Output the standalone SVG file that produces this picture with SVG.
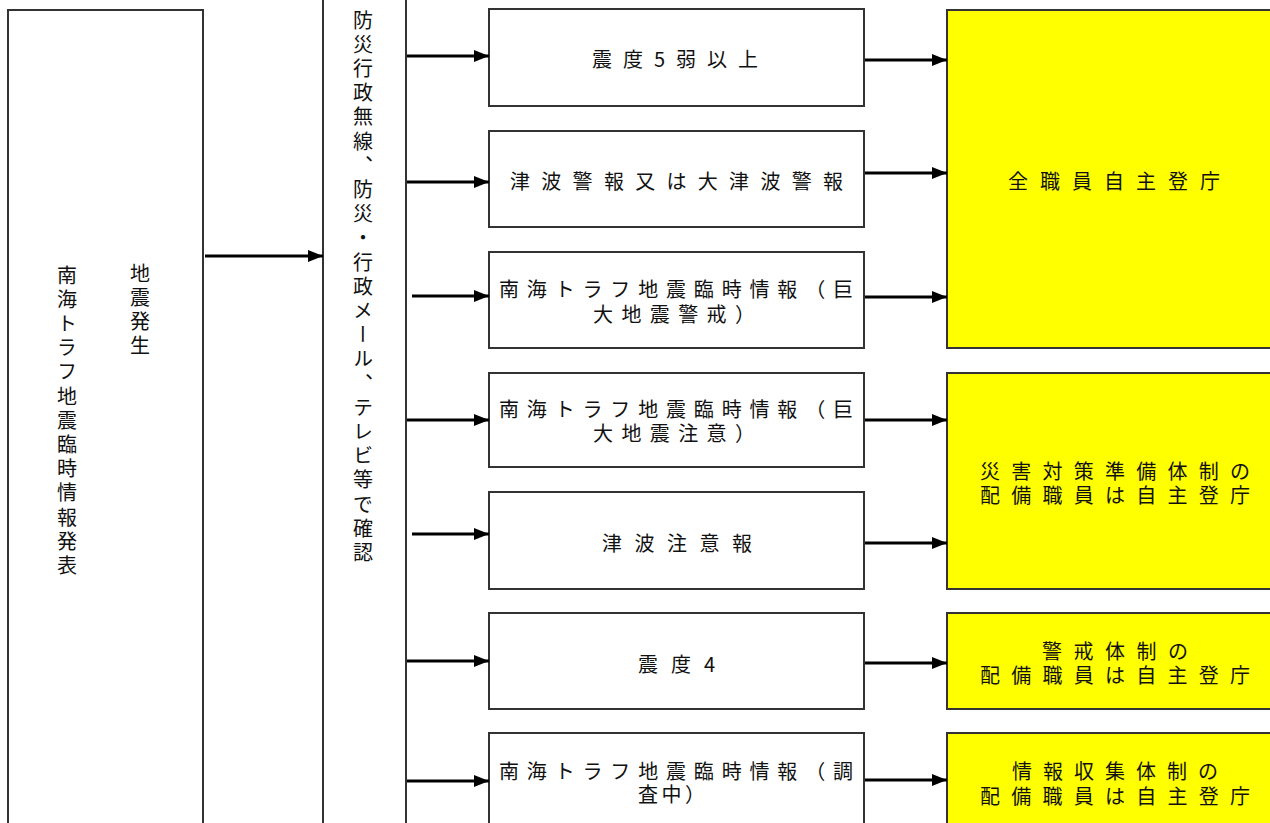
<svg xmlns="http://www.w3.org/2000/svg" width="1270" height="823" viewBox="0 0 1270 823">
<style>
.box{fill:#fff;stroke:#333;stroke-width:2}
.ybox{fill:#ffff00;stroke:#333;stroke-width:2}
.t{font-family:"Noto Sans CJK JP","Noto Sans CJK SC",sans-serif;font-size:20px;font-weight:normal;fill:#111;dominant-baseline:central}
.v{font-family:"Noto Sans CJK JP","Noto Sans CJK SC",sans-serif;font-size:20px;font-weight:normal;fill:#111;writing-mode:vertical-rl;letter-spacing:4.2px}
.c{stroke:#000;stroke-width:3;fill:none;marker-end:url(#ah)}
</style>
<defs>
<marker id="ah" markerUnits="userSpaceOnUse" markerWidth="16" markerHeight="12" refX="15" refY="6" orient="auto">
<path d="M0,0 L15,6 L0,12 Z" fill="#000"/>
</marker>
</defs>
<rect width="1270" height="823" fill="#fff"/>
<g id="n-start">
<rect class="box" x="8" y="10" width="195" height="830"/>
<text class="v" x="140" y="263">地震発生</text>
<text class="v" x="67" y="265">南海トラフ地震臨時情報発表</text>
</g>
<g id="n-confirm">
<rect class="box" x="323" y="-10" width="83" height="850"/>
<text class="v" x="363" y="10">防災行政無線、防災・行政メール、テレビ等で確認</text>
</g>
<g id="n-b1">
<rect class="box" x="489" y="9" width="375" height="97"/>
<text class="t" x="592" y="58" textLength="166" lengthAdjust="spacing">震度5弱以上</text>
</g>
<g id="n-b2">
<rect class="box" x="489" y="131" width="375" height="96"/>
<text class="t" x="510" y="180" textLength="333" lengthAdjust="spacing">津波警報又は大津波警報</text>
</g>
<g id="n-b3">
<rect class="box" x="489" y="252" width="375" height="96"/>
<text class="t"><tspan x="499" y="288" textLength="354" lengthAdjust="spacing">南海トラフ地震臨時情報（巨</tspan><tspan x="593" y="313" textLength="162" lengthAdjust="spacing">大地震警戒）</tspan></text>
</g>
<g id="n-b4">
<rect class="box" x="489" y="373" width="375" height="94"/>
<text class="t"><tspan x="499" y="408" textLength="354" lengthAdjust="spacing">南海トラフ地震臨時情報（巨</tspan><tspan x="593" y="432" textLength="162" lengthAdjust="spacing">大地震注意）</tspan></text>
</g>
<g id="n-b5">
<rect class="box" x="489" y="492" width="375" height="97"/>
<text class="t" x="602" y="542" textLength="150" lengthAdjust="spacing">津波注意報</text>
</g>
<g id="n-b6">
<rect class="box" x="489" y="613" width="375" height="96"/>
<text class="t" x="638" y="663" textLength="77" lengthAdjust="spacing">震度4</text>
</g>
<g id="n-b7">
<rect class="box" x="489" y="733" width="375" height="110"/>
<text class="t"><tspan x="499" y="770" textLength="354" lengthAdjust="spacing">南海トラフ地震臨時情報（調</tspan><tspan x="638" y="793" textLength="67" lengthAdjust="spacing">査中）</tspan></text>
</g>
<g id="n-all">
<rect class="ybox" x="947" y="10" width="330" height="338"/>
<text class="t" x="1008" y="180" textLength="212" lengthAdjust="spacing">全職員自主登庁</text>
</g>
<g id="n-prep">
<rect class="ybox" x="947" y="373" width="330" height="216"/>
<text class="t"><tspan x="980" y="470" textLength="270" lengthAdjust="spacing">災害対策準備体制の</tspan><tspan x="980" y="494" textLength="270" lengthAdjust="spacing">配備職員は自主登庁</tspan></text>
</g>
<g id="n-alert">
<rect class="ybox" x="947" y="613" width="330" height="96"/>
<text class="t"><tspan x="1042" y="650" textLength="146" lengthAdjust="spacing">警戒体制の</tspan><tspan x="980" y="674" textLength="270" lengthAdjust="spacing">配備職員は自主登庁</tspan></text>
</g>
<g id="n-info">
<rect class="ybox" x="947" y="733" width="330" height="110"/>
<text class="t"><tspan x="1012" y="770" textLength="206" lengthAdjust="spacing">情報収集体制の</tspan><tspan x="980" y="795" textLength="270" lengthAdjust="spacing">配備職員は自主登庁</tspan></text>
</g>
<g id="connectors">
<line class="c" x1="205" y1="256" x2="323" y2="256"/>
<line class="c" x1="407" y1="56" x2="489" y2="56"/>
<line class="c" x1="407" y1="182" x2="489" y2="182"/>
<line class="c" x1="412" y1="296" x2="489" y2="296"/>
<line class="c" x1="407" y1="420" x2="489" y2="420"/>
<line class="c" x1="412" y1="534" x2="489" y2="534"/>
<line class="c" x1="407" y1="661" x2="489" y2="661"/>
<line class="c" x1="407" y1="781" x2="489" y2="781"/>
<line class="c" x1="865" y1="60" x2="947" y2="60"/>
<line class="c" x1="865" y1="173" x2="947" y2="173"/>
<line class="c" x1="865" y1="297" x2="947" y2="297"/>
<line class="c" x1="865" y1="420" x2="947" y2="420"/>
<line class="c" x1="865" y1="543" x2="947" y2="543"/>
<line class="c" x1="865" y1="663" x2="947" y2="663"/>
<line class="c" x1="865" y1="780" x2="947" y2="780"/>
</g>
</svg>
